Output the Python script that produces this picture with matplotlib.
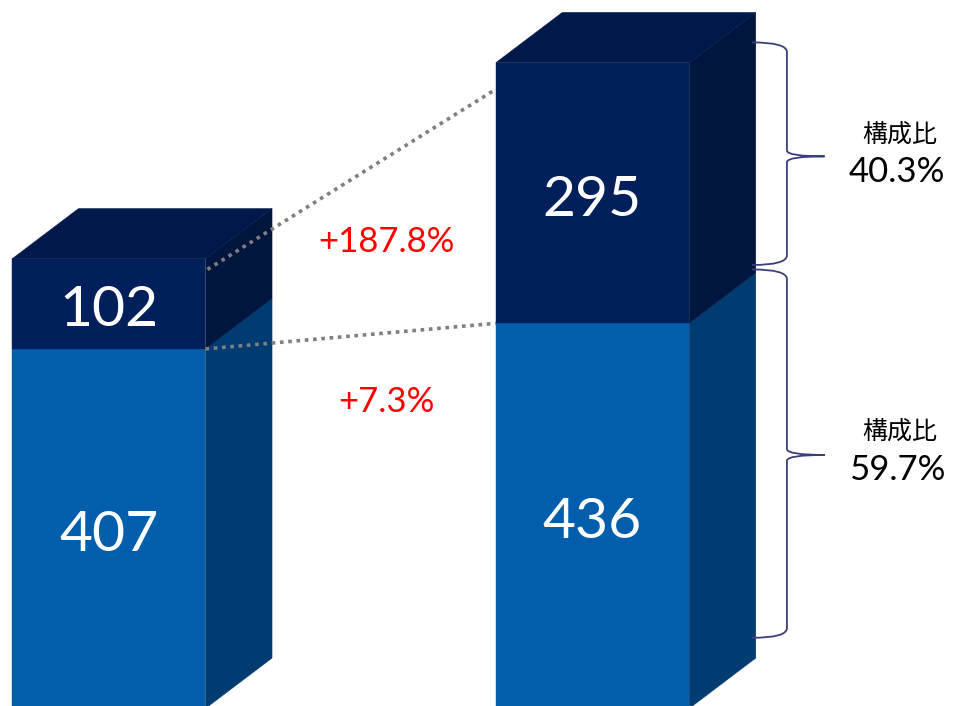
import matplotlib.pyplot as plt
from matplotlib.patches import Polygon, PathPatch
from matplotlib.path import Path

plt.rcParams['font.family'] = ['Lato', 'Noto Sans CJK JP', 'DejaVu Sans']

# data
bar_x = [0.0, 2.5]
lower_vals = [407, 436]
upper_vals = [102, 295]
growth_labels = ['+187.8%', '+7.3%']
share_title = '構成比'
share_labels = ['40.3%', '59.7%']

# style
W = 1.0
DX, DY = 0.344, 57.0
C_FRONT_LO, C_SIDE_LO = '#005EAC', '#003C71'
C_FRONT_HI, C_SIDE_HI, C_TOP = '#001F5B', '#00163F', '#00194A'
BRACE_C = '#3A3F7A'


def box3d(ax, x, v0, v1, front, side, z):
	ax.add_patch(Polygon([(x, v0), (x + W, v0), (x + W, v1), (x, v1)], closed=True,
						 fc=front, ec=front, lw=0.3, zorder=z))
	ax.add_patch(Polygon([(x + W, v0), (x + W + DX, v0 + DY), (x + W + DX, v1 + DY), (x + W, v1)],
						 closed=True, fc=side, ec=side, lw=0.3, zorder=z))


def brace(ax, x_tip, x_stem, x_point, top, bot, mid, r=11):
	verts = [(x_tip, top), (x_stem, top), (x_stem, top - r),
			 (x_stem, mid + r * 0.6),
			 (x_stem, mid), (x_point, mid),
			 (x_stem, mid), (x_stem, mid - r * 0.6),
			 (x_stem, bot + r),
			 (x_stem, bot), (x_tip, bot)]
	codes = [Path.MOVETO, Path.CURVE3, Path.CURVE3, Path.LINETO,
			 Path.CURVE3, Path.CURVE3, Path.CURVE3, Path.CURVE3,
			 Path.LINETO, Path.CURVE3, Path.CURVE3]
	ax.add_patch(PathPatch(Path(verts, codes), fc='none', ec=BRACE_C, lw=1.3, zorder=5))


fig = plt.figure(figsize=(9.58, 7.06), dpi=100)
ax = fig.add_axes([0, 0, 1, 1])
ax.set_xlim(-0.062, 4.889)
ax.set_ylim(2.8, 802)
ax.axis('off')

for i, x in enumerate(bar_x):
	lo = lower_vals[i]
	tot = lo + upper_vals[i]
	z = 2 + i * 3
	box3d(ax, x, 0, lo, C_FRONT_LO, C_SIDE_LO, z)
	box3d(ax, x, lo, tot, C_FRONT_HI, C_SIDE_HI, z)
	ax.add_patch(Polygon([(x, tot), (x + DX, tot + DY), (x + W + DX, tot + DY), (x + W, tot)],
						 closed=True, fc=C_TOP, ec=C_TOP, lw=0.3, zorder=z))
	ax.text(x + W / 2, lo / 2 - 8, str(lo), color='white', fontsize=41,
			ha='center', va='center', zorder=z + 1)
	ax.text(x + W / 2, lo + upper_vals[i] / 2 - 8, str(upper_vals[i]), color='white', fontsize=41,
			ha='center', va='center', zorder=z + 1)

# connecting dotted lines
tot = [lower_vals[i] + upper_vals[i] for i in range(2)]
dot = dict(color='#7F7F7F', lw=2.6, dashes=(1, 1.3), dash_capstyle='butt', zorder=4)
ax.plot([bar_x[0] + W + 0.01, bar_x[1]], [tot[0] - 12, tot[1] - 30], **dot)
ax.plot([bar_x[0] + W, bar_x[1]], [lower_vals[0], lower_vals[1]], **dot)

ax.text(1.933, 528, growth_labels[0], color='#FF0000', fontsize=25, ha='center', va='center')
ax.text(1.933, 347, growth_labels[1], color='#FF0000', fontsize=25, ha='center', va='center')

# braces and share labels
brace(ax, 3.824, 4.005, 4.20, 754, 502, 625)
brace(ax, 3.824, 4.005, 4.20, 497, 80, 287)
for top_v, lab in [(650, share_labels[0]), (313, share_labels[1])]:
	ax.text(4.589, top_v, share_title, fontsize=18, ha='center', va='center',
			family=['Noto Sans CJK JP', 'DejaVu Sans'])
	ax.text(4.575, top_v - 43, lab, fontsize=25, ha='center', va='center')

fig.savefig('out.png', dpi=100)
